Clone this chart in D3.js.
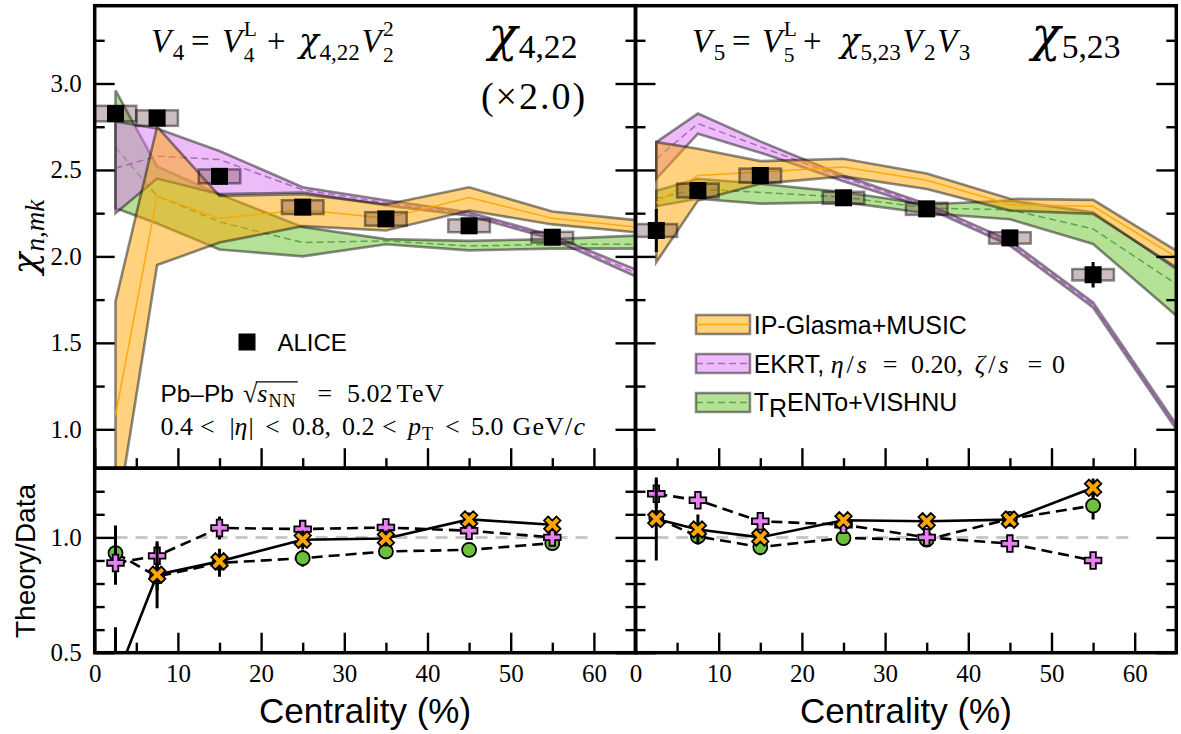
<!DOCTYPE html>
<html><head><meta charset="utf-8">
<script src="https://cdn.jsdelivr.net/npm/d3@7"></script>
<style>html,body{margin:0;padding:0;background:#fff;} svg{display:block;}</style>
</head><body>
<svg id="chart" width="1181" height="734"></svg>
<script>
// ---------------- DATA ----------------
const centrality = [2.5, 7.5, 15, 25, 35, 45, 55];
const bandCentrality = [2.5, 7.5, 15, 25, 35, 45, 55, 65];

// chi_{4,22} (x2.0)
const alice422 = [2.826, 2.800, 2.463, 2.285, 2.217, 2.177, 2.111];
const alice422Stat = [0.02, 0.02, 0.02, 0.015, 0.015, 0.015, 0.02];
const alice422Sys = [0.045, 0.045, 0.04, 0.04, 0.039, 0.037, 0.031];
const ipg422Lo  = [0.44, 1.95, 2.08, 2.175, 2.15, 2.265, 2.185, 2.14];
const ipg422Mid = [1.08, 2.35, 2.22, 2.27, 2.22, 2.34, 2.22, 2.17];
const ipg422Hi  = [1.74, 2.75, 2.35, 2.36, 2.30, 2.40, 2.26, 2.21];
const ekrt422Lo  = [2.25, 2.45, 2.36, 2.37, 2.295, 2.235, 2.10, 1.885];
const ekrt422Mid = [2.51, 2.58, 2.56, 2.385, 2.31, 2.245, 2.11, 1.905];
const ekrt422Hi  = [2.78, 2.74, 2.61, 2.40, 2.325, 2.255, 2.12, 1.925];
const trento422Lo  = [2.28, 2.19, 2.04, 2.00, 2.07, 2.035, 2.045, 2.045];
const trento422Mid = [2.63, 2.35, 2.20, 2.08, 2.09, 2.06, 2.07, 2.07];
const trento422Hi  = [2.96, 2.52, 2.36, 2.17, 2.10, 2.09, 2.10, 2.12];

// chi_{5,23}
const alice523 = [2.15, 2.381, 2.468, 2.339, 2.275, 2.107, 1.894];
const alice523Stat = [0.125, 0.03, 0.025, 0.02, 0.02, 0.025, 0.074];
const alice523Sys = [0.037, 0.04, 0.04, 0.035, 0.035, 0.033, 0.033];
const ipg523Lo  = [1.966, 2.323, 2.42, 2.463, 2.39, 2.265, 2.246, 1.937];
const ipg523Mid = [2.31, 2.468, 2.488, 2.517, 2.44, 2.30, 2.29, 1.995];
const ipg523Hi  = [2.661, 2.623, 2.551, 2.565, 2.48, 2.333, 2.327, 2.033];
const ekrt523Lo  = [2.449, 2.71, 2.60, 2.435, 2.281, 2.062, 1.705, 0.999];
const ekrt523Mid = [2.565, 2.768, 2.635, 2.455, 2.294, 2.075, 1.72, 1.013];
const ekrt523Hi  = [2.661, 2.826, 2.665, 2.468, 2.304, 2.091, 1.734, 1.028];
const trento523Lo  = [2.29, 2.333, 2.305, 2.314, 2.25, 2.215, 2.072, 1.657];
const trento523Mid = [2.335, 2.39, 2.37, 2.343, 2.28, 2.27, 2.159, 1.84];
const trento523Hi  = [2.38, 2.449, 2.42, 2.372, 2.30, 2.323, 2.256, 1.927];

// Theory / Data
const ratio422IPG = [0.38, 0.838, 0.896, 0.99, 0.995, 1.078, 1.055];
const ratio422IPGErr = [0.23, 0.145, 0.055, 0.04, 0.035, 0.03, 0.02];
const ratio422EKRT = [0.889, 0.92, 1.041, 1.036, 1.043, 1.029, 1.0];
const ratio422EKRTErr = [0.094, 0.055, 0.05, 0.01, 0.01, 0.01, 0.01];
const ratio422Trento = [0.932, 0.83, 0.889, 0.91, 0.939, 0.946, 0.975];
const ratio422TrentoErr = [0.12, 0.06, 0.06, 0.037, 0.01, 0.013, 0.013];
const ratio523IPG = [1.08, 1.034, 1.0, 1.074, 1.07, 1.077, 1.215];
const ratio523IPGErr = [0.18, 0.065, 0.026, 0.02, 0.02, 0.015, 0.04];
const ratio523EKRT = [1.189, 1.161, 1.07, 1.055, 1.0, 0.973, 0.90];
const ratio523EKRTErr = [0.06, 0.025, 0.015, 0.01, 0.01, 0.01, 0.01];
const ratio523Trento = [1.084, 1.004, 0.958, 0.997, 0.99, 1.08, 1.138];
const ratio523TrentoErr = [0.03, 0.03, 0.035, 0.015, 0.01, 0.02, 0.06];

// ticks
const xTicks = [0, 10, 20, 30, 40, 50, 60];
const xMinorTicks = [5, 15, 25, 35, 45, 55];
const yTopTicks = [1.0, 1.5, 2.0, 2.5, 3.0];
const yTopMinorTicks = [1.25, 1.75, 2.25, 2.75, 3.25];
const yBotTicks = [0.5, 1.0];
const yBotMinorTicks = [0.6, 0.7, 0.8, 0.9, 1.1, 1.2];
const ratioRefRange = [2.5, 60];

const legendModels = ["IP-Glasma+MUSIC", "EKRT", "TRENTo+VISHNU"];

// ---------------- LAYOUT / STYLE ----------------
const SERIF = "'Liberation Serif','DejaVu Serif',serif";
const CHI = "'DejaVu Serif','Liberation Serif',serif";
const SANS = "'Liberation Sans','DejaVu Sans',sans-serif";
const C_ORANGE = "#ffa500", C_PURPLE = "#db77f5", C_GREEN = "#69c32d";
const M_PURPLE = "#e680f0", M_GREEN = "#6cc03c";
const L_ORANGE = 'rgba(255,165,0,0.9)', L_PURPLE = 'rgba(150,90,170,0.8)', L_GREEN = 'rgba(70,150,50,0.8)';

const X0 = 94.7, XM = 635.5, X1 = 1176.3, YT = 5.7, YM = 468.2, YB = 652.7;
const xL = d3.scaleLinear().domain([0, 65]).range([X0, XM]);
const xR = d3.scaleLinear().domain([0, 65]).range([XM, X1]);
const yTop = d3.scaleLinear().domain([0.775, 3.45]).range([YM, YT]);
const yBot = d3.scaleLinear().domain([0.5, 1.3]).range([YB, YM]);

const svg = d3.select('#chart');
svg.append('rect').attr('width', 1181).attr('height', 734).attr('fill', '#fff');
const defs = svg.append('defs');
function clip(id, xs, ys) {
  defs.append('clipPath').attr('id', id).append('rect')
    .attr('x', xs.range()[0]).attr('y', ys.range()[1])
    .attr('width', xs.range()[1] - xs.range()[0]).attr('height', ys.range()[0] - ys.range()[1]);
  return svg.append('g').attr('clip-path', `url(#${id})`);
}

function drawBand(g, xs, ys, lo, mid, hi, fill, lineColor, dash) {
  const pts = bandCentrality.map((c, i) => ({c, lo: lo[i], mid: mid[i], hi: hi[i]}));
  const area = d3.area().x(d => xs(d.c)).y0(d => ys(d.lo)).y1(d => ys(d.hi));
  g.append('path').attr('d', area(pts)).attr('fill', fill).attr('fill-opacity', 0.5)
    .attr('stroke', '#000').attr('stroke-opacity', 0.45).attr('stroke-width', 2.6);
  const line = d3.line().x(d => xs(d.c)).y(d => ys(d.mid));
  g.append('path').attr('d', line(pts)).attr('fill', 'none').attr('stroke', lineColor)
    .attr('stroke-width', 1.5).attr('stroke-dasharray', dash || null);
}

function drawAlice(g, xs, ys, vals, stat, sys) {
  const pts = centrality.map((c, i) => ({c, v: vals[i], st: stat[i], sy: sys[i]}));
  g.selectAll(null).data(pts).enter().append('rect')
    .attr('x', d => xs(d.c - 2.5)).attr('width', d => xs(d.c + 2.5) - xs(d.c - 2.5))
    .attr('y', d => ys(d.v + d.sy)).attr('height', d => ys(d.v - d.sy) - ys(d.v + d.sy))
    .attr('fill', 'rgb(110,70,70)').attr('fill-opacity', 0.35)
    .attr('stroke', '#000').attr('stroke-opacity', 0.45).attr('stroke-width', 2.5);
  g.selectAll(null).data(pts).enter().append('line')
    .attr('x1', d => xs(d.c)).attr('x2', d => xs(d.c))
    .attr('y1', d => ys(d.v - d.st)).attr('y2', d => ys(d.v + d.st))
    .attr('stroke', '#000').attr('stroke-width', 3);
  g.selectAll(null).data(pts).enter().append('rect')
    .attr('x', d => xs(d.c) - 8.5).attr('y', d => ys(d.v) - 8.5)
    .attr('width', 17).attr('height', 17).attr('fill', '#000');
}

const symPlus = d3.symbol(d3.symbolCross, 155);
const symX = d3.symbol(d3.symbolCross, 170);
const symCircle = d3.symbol(d3.symbolCircle, 155);

function drawRatio(g, xs, ys, vals, errs, color, sym, rot, dash) {
  const pts = centrality.map((c, i) => ({c, v: vals[i], e: errs[i]}));
  g.append('path').attr('d', d3.line().x(d => xs(d.c)).y(d => ys(d.v))(pts))
    .attr('fill', 'none').attr('stroke', '#000').attr('stroke-width', 2.6)
    .attr('stroke-dasharray', dash || null);
  g.selectAll(null).data(pts).enter().append('line')
    .attr('x1', d => xs(d.c)).attr('x2', d => xs(d.c))
    .attr('y1', d => ys(d.v - d.e)).attr('y2', d => ys(d.v + d.e))
    .attr('stroke', '#000').attr('stroke-width', 3);
  g.selectAll(null).data(pts).enter().append('path').attr('d', sym)
    .attr('transform', d => `translate(${xs(d.c)},${ys(d.v)}) rotate(${rot})`)
    .attr('fill', color).attr('stroke', '#000').attr('stroke-width', 1.8);
}

function styleAxis(g) {
  g.select('.domain').remove();
  g.selectAll('.tick line').attr('stroke', '#000').attr('stroke-width', 2.4);
  g.selectAll('.tick text').attr('font-family', SERIF).attr('font-size', 25).attr('fill', '#000');
}

function axes(xs, ys, yMajor, yMinor, xLabels, yLabels) {
  const [xa, xb] = xs.range(), [ya, yb] = ys.range();
  svg.append('g').attr('transform', `translate(0,${ya})`)
    .call(d3.axisBottom(xs).tickValues(xTicks).tickSize(-20).tickPadding(12)
      .tickFormat(xLabels ? d3.format('d') : () => '')).call(styleAxis);
  svg.append('g').attr('transform', `translate(0,${ya})`)
    .call(d3.axisBottom(xs).tickValues(xMinorTicks).tickSize(-10).tickFormat(() => '')).call(styleAxis);
  svg.append('g').attr('transform', `translate(${xa},0)`)
    .call(d3.axisLeft(ys).tickValues(yMajor).tickSize(-20).tickPadding(13)
      .tickFormat(yLabels ? d3.format('.1f') : () => '')).call(styleAxis);
  svg.append('g').attr('transform', `translate(${xa},0)`)
    .call(d3.axisLeft(ys).tickValues(yMinor).tickSize(-10).tickFormat(() => '')).call(styleAxis);
  svg.append('g').attr('transform', `translate(${xb},0)`)
    .call(d3.axisRight(ys).tickValues(yMajor).tickSize(-20).tickFormat(() => '')).call(styleAxis);
  svg.append('g').attr('transform', `translate(${xb},0)`)
    .call(d3.axisRight(ys).tickValues(yMinor).tickSize(-10).tickFormat(() => '')).call(styleAxis);
  svg.append('rect').attr('x', xa).attr('y', yb).attr('width', xb - xa).attr('height', ya - yb)
    .attr('fill', 'none').attr('stroke', '#000').attr('stroke-width', 3.5);
}

// math text helper: items placed left to right; {at} sets offset, {stack} sub+sup, {k} extra gap (px)
function mrun(parent, x, y, items, size, anchor) {
  const g = parent.append('g');
  let cx = 0, radX = null;
  for (const it of items) {
    if (it.at !== undefined) { cx = it.at; }
    if (it.sp !== undefined) { cx += it.sp * size; continue; }
    if (it.radEnd) {
      g.append('line').attr('x1', radX - 1.5).attr('x2', cx + 1)
        .attr('y1', -0.76 * size).attr('y2', -0.76 * size).attr('stroke', '#000').attr('stroke-width', 1.2);
      continue;
    }
    if (it.t === undefined) continue;
    const fs = size * (it.s || 1);
    const fam = it.sans ? SANS : (it.chi ? CHI : SERIF);
    const el = g.append('text').attr('font-family', fam)
      .attr('font-style', it.i ? 'italic' : 'normal').attr('font-size', fs).attr('fill', '#000');
    if (it.stack !== undefined) {
      el.append('tspan').attr('x', cx).attr('y', 0.29 * size).text(it.t);
      el.append('tspan').attr('x', cx).attr('y', -0.48 * size).text(it.stack);
      cx += el.node().getBBox().width;
    } else {
      el.attr('x', cx).attr('y', (it.dy || 0) * size).text(it.t);
      if (it.ls) el.attr('letter-spacing', it.ls);
      cx += el.node().getComputedTextLength();
    }
    cx += (it.k || 0);
    if (it.rad) radX = cx;
  }
  const shift = anchor === 'middle' ? -cx / 2 : anchor === 'end' ? -cx : 0;
  g.attr('transform', `translate(${x + shift},${y})`);
  return {g, w: cx};
}
const sub = (t, o) => Object.assign({t, s: 0.7, dy: 0.24}, o || {});

// ---------------- TOP PANELS ----------------
const gTL = clip('cTL', xL, yTop);
drawBand(gTL, xL, yTop, trento422Lo, trento422Mid, trento422Hi, C_GREEN, L_GREEN, '7,4');
drawBand(gTL, xL, yTop, ekrt422Lo, ekrt422Mid, ekrt422Hi, C_PURPLE, L_PURPLE, '7,4');
drawBand(gTL, xL, yTop, ipg422Lo, ipg422Mid, ipg422Hi, C_ORANGE, L_ORANGE);
drawAlice(gTL, xL, yTop, alice422, alice422Stat, alice422Sys);

const gTR = clip('cTR', xR, yTop);
drawBand(gTR, xR, yTop, trento523Lo, trento523Mid, trento523Hi, C_GREEN, L_GREEN, '7,4');
drawBand(gTR, xR, yTop, ekrt523Lo, ekrt523Mid, ekrt523Hi, C_PURPLE, L_PURPLE, '7,4');
drawBand(gTR, xR, yTop, ipg523Lo, ipg523Mid, ipg523Hi, C_ORANGE, L_ORANGE);
drawAlice(gTR, xR, yTop, alice523, alice523Stat, alice523Sys);

// ---------------- RATIOS ----------------
function ratioPanel(id, xs, t, tE, e, eE, p, pE) {
  const g = clip(id, xs, yBot);
  g.append('line').attr('x1', xs(ratioRefRange[0])).attr('x2', xs(ratioRefRange[1]))
    .attr('y1', yBot(1)).attr('y2', yBot(1)).attr('stroke', '#c8c8c8').attr('stroke-width', 3)
    .attr('stroke-dasharray', '12,8');
  drawRatio(g, xs, yBot, t, tE, M_GREEN, symCircle, 0, '11,6');
  drawRatio(g, xs, yBot, e, eE, M_PURPLE, symPlus, 0, '11,6');
  drawRatio(g, xs, yBot, p, pE, C_ORANGE, symX, 45, null);
}
ratioPanel('cBL', xL, ratio422Trento, ratio422TrentoErr, ratio422EKRT, ratio422EKRTErr, ratio422IPG, ratio422IPGErr);
ratioPanel('cBR', xR, ratio523Trento, ratio523TrentoErr, ratio523EKRT, ratio523EKRTErr, ratio523IPG, ratio523IPGErr);

// ---------------- AXES ----------------
axes(xL, yTop, yTopTicks, yTopMinorTicks, false, true);
axes(xR, yTop, yTopTicks, yTopMinorTicks, false, false);
axes(xL, yBot, yBotTicks, yBotMinorTicks, true, true);
axes(xR, yBot, yBotTicks, yBotMinorTicks, true, false);

// ---------------- TEXT ----------------
mrun(svg, 151, 52, [
  {t: 'V', i: 1, k: 1.5}, sub('4'), {at: 40, t: '='},
  {at: 71, t: 'V', i: 1, k: 1.5}, {t: '4', s: 0.65, stack: 'L'},
  {at: 116, t: '+'}, {at: 148, t: 'χ', i: 1, chi: 1, k: 0.5}, sub('4,22', {k: 1.5}),
  {t: 'V', i: 1, k: 1.5}, {t: '2', s: 0.65, stack: '2'}
], 33);
mrun(svg, 692, 52, [
  {t: 'V', i: 1, k: 1.5}, sub('5'), {at: 40, t: '='},
  {at: 70, t: 'V', i: 1, k: 1.5}, {t: '5', s: 0.65, stack: 'L'},
  {at: 111, t: '+'}, {at: 148, t: 'χ', i: 1, chi: 1, k: 0.5}, sub('5,23', {k: 1.5}),
  {t: 'V', i: 1, k: 1.5}, sub('2', {k: 1.5}), {t: 'V', i: 1, k: 1.5}, sub('3')
], 33);
mrun(svg, 533, 51, [{t: 'χ', i: 1, chi: 1, k: 1}, {t: '4,22', s: 0.7, dy: 0.15}], 48, 'middle');
mrun(svg, 534, 109, [{t: '(×2.0)', ls: 2}], 38, 'middle');
mrun(svg, 1076, 51, [{t: 'χ', i: 1, chi: 1, k: 1}, {t: '5,23', s: 0.7, dy: 0.15}], 48, 'middle');

// y labels
{
  const r = mrun(svg, 0, 0, [{t: 'χ', i: 1, chi: 1, k: 1}, {t: 'n,mk', i: 1, s: 0.75, dy: 0.2}], 36);
  r.g.attr('transform', `translate(37,${237 + r.w / 2}) rotate(-90)`);
}
svg.append('text').attr('transform', 'translate(35,561) rotate(-90)').attr('text-anchor', 'middle')
  .attr('font-family', SANS).attr('font-size', 28).text('Theory/Data');
svg.append('text').attr('x', (X0 + XM) / 2).attr('y', 723).attr('text-anchor', 'middle')
  .attr('font-family', SANS).attr('font-size', 35).text('Centrality (%)');
svg.append('text').attr('x', (XM + X1) / 2).attr('y', 723).attr('text-anchor', 'middle')
  .attr('font-family', SANS).attr('font-size', 35).text('Centrality (%)');

// ALICE legend
svg.append('rect').attr('x', 238.5).attr('y', 333.5).attr('width', 17).attr('height', 17).attr('fill', '#000');
svg.append('text').attr('x', 277.5).attr('y', 350.5).attr('font-family', SANS).attr('font-size', 24).text('ALICE');

// collision info
mrun(svg, 160.4, 401.7, [
  {t: 'Pb–Pb', sans: 1, s: 0.94}, {at: 82.6, t: '√', rad: 1}, {t: 's', i: 1, k: 1}, sub('NN', {dy: 0.2, ls: 1}),
  {radEnd: 1}, {at: 157, t: '='}, {at: 186.6, t: '5.02'}, {at: 236, t: 'TeV', ls: 1.5}
], 26);
mrun(svg, 160.4, 435, [
  {t: '0.4'}, {at: 39.6, t: '<'}, {at: 69, t: '|'}, {t: 'η', i: 1, k: 1}, {t: '|'}, {at: 104.6, t: '<'},
  {at: 131.6, t: '0.8,'}, {at: 181.6, t: '0.2'}, {at: 221.6, t: '<'}, {at: 247.6, t: 'p', i: 1, k: 1}, sub('T', {dy: 0.2}),
  {at: 284.6, t: '<'}, {at: 310.6, t: '5.0'}, {at: 352, t: 'GeV/', ls: 1.2}, {t: 'c', i: 1}
], 26);

// model legend
const legRows = [
  {y: 315, fill: C_ORANGE, line: L_ORANGE, dash: null},
  {y: 354, fill: C_PURPLE, line: L_PURPLE, dash: '7,4'},
  {y: 393, fill: C_GREEN, line: L_GREEN, dash: '7,4'}
];
legRows.forEach(r => {
  svg.append('rect').attr('x', 696).attr('y', r.y).attr('width', 54).attr('height', 19)
    .attr('fill', r.fill).attr('fill-opacity', 0.5).attr('stroke', '#000').attr('stroke-opacity', 0.45).attr('stroke-width', 2.5);
  svg.append('line').attr('x1', 696).attr('x2', 750).attr('y1', r.y + 9.5).attr('y2', r.y + 9.5)
    .attr('stroke', r.line).attr('stroke-width', 1.5).attr('stroke-dasharray', r.dash);
});
svg.append('text').attr('x', 753.7).attr('y', 334).attr('font-family', SANS).attr('font-size', 25).text(legendModels[0]);
mrun(svg, 753.7, 372.5, [
  {t: legendModels[1] + ',', sans: 1, s: 25 / 26}, {at: 77, t: 'η', i: 1, k: 3}, {t: '/', k: 3}, {t: 's', i: 1}, {at: 129, t: '='},
  {at: 157.3, t: '0.20,'}, {at: 221, t: 'ζ', i: 1, k: 3}, {t: '/', k: 3}, {t: 's', i: 1}, {at: 273.8, t: '='}, {at: 298.3, t: '0'}
], 26);
mrun(svg, 753.7, 411, [
  {t: 'T', sans: 1}, {t: 'R', sans: 1, dy: 0.22}, {t: 'ENTo+VISHNU', sans: 1}
], 25);
</script></body></html>
